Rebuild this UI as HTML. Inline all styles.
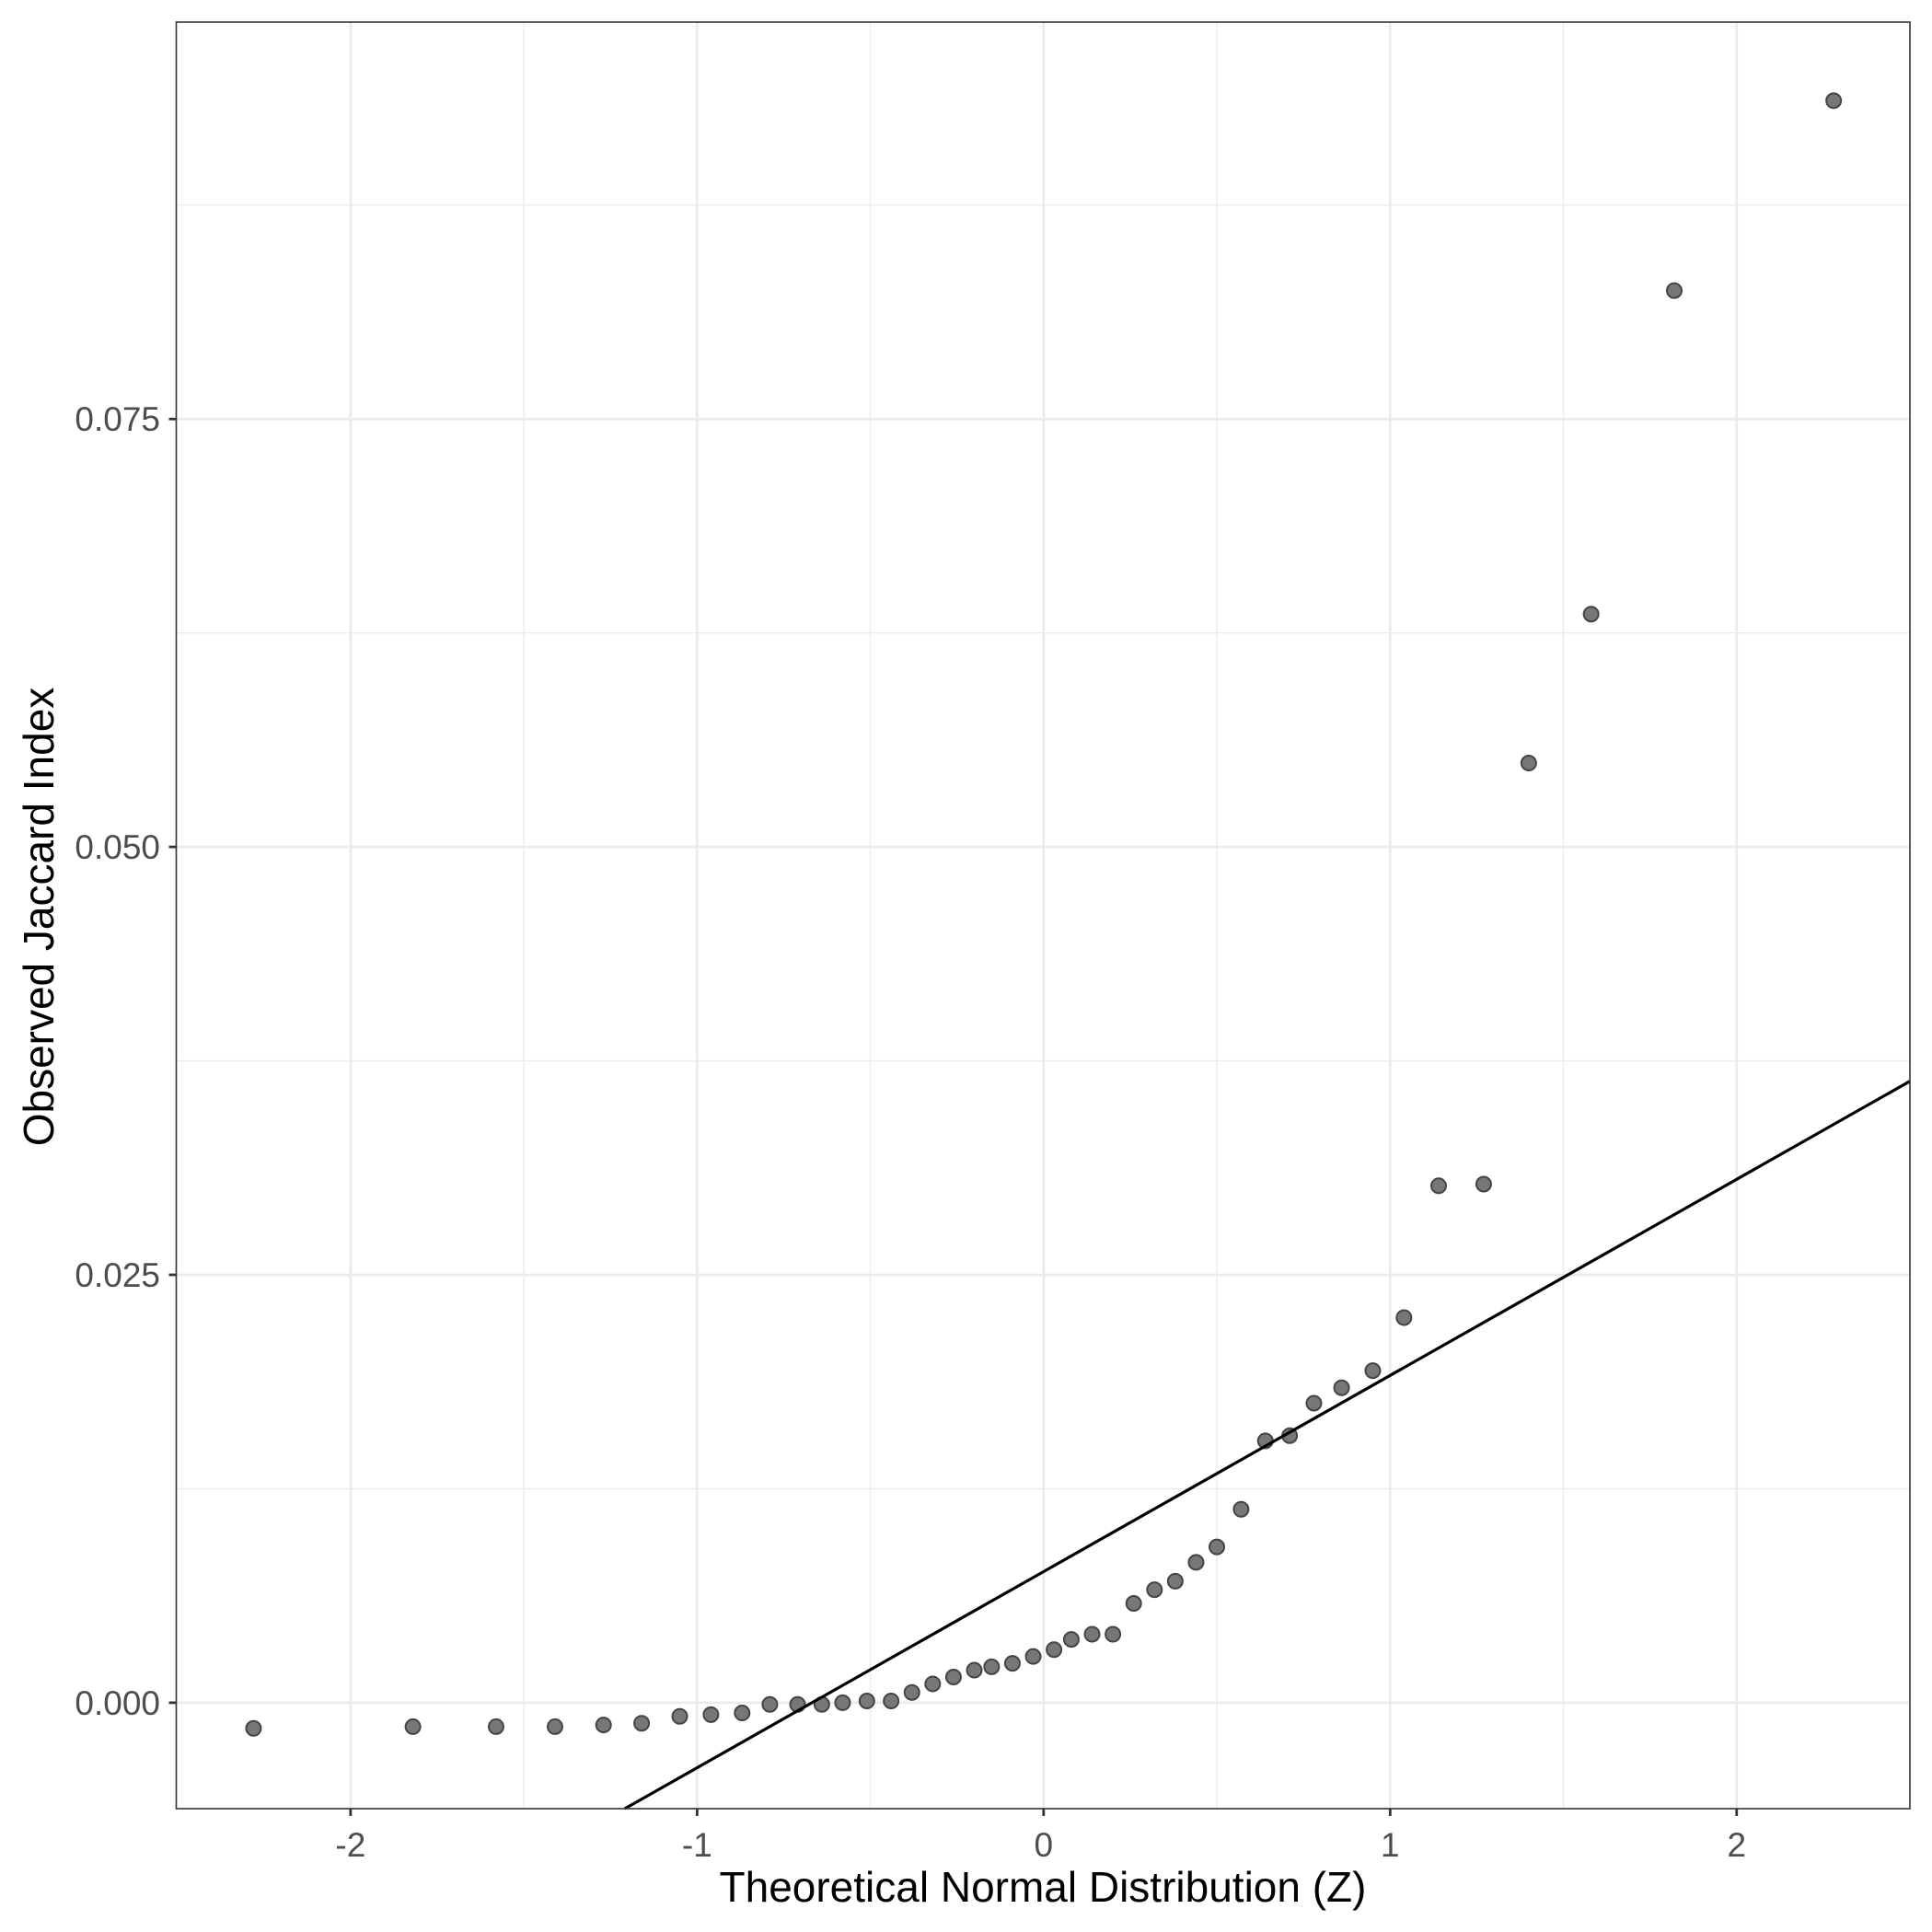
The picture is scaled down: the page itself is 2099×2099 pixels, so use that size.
<!DOCTYPE html>
<html><head><meta charset="utf-8"><style>
html,body{margin:0;padding:0;background:#fff;}
svg{display:block;font-family:"Liberation Sans",Arial,sans-serif;}
</style></head><body>
<svg id="chart" width="2099" height="2099" viewBox="0 0 2099 2099" xmlns="http://www.w3.org/2000/svg">
<rect x="0" y="0" width="2099" height="2099" fill="#fff"/>
<g id="grid"></g>
<g id="marks"></g>
<g id="axes"></g>
<text x="1133" y="2066" text-anchor="middle" font-size="46" fill="#000">Theoretical Normal Distribution (Z)</text>
<text transform="translate(58,996) rotate(-90)" text-anchor="middle" font-size="46" fill="#000">Observed Jaccard Index</text>
</svg>
<script>
const zValues = [-2.28,-1.82,-1.58,-1.41,-1.27,-1.16,-1.05,-0.96,-0.87,-0.79,-0.71,-0.64,-0.58,-0.51,-0.44,-0.38,-0.32,-0.26,-0.20,-0.15,-0.09,-0.03,0.03,0.08,0.14,0.20,0.26,0.32,0.38,0.44,0.50,0.57,0.64,0.71,0.78,0.86,0.95,1.04,1.14,1.27,1.40,1.58,1.82,2.28];
const jaccardValues = [-0.0015,-0.0014,-0.0014,-0.0014,-0.0013,-0.0012,-0.0008,-0.0007,-0.0006,-0.0001,-0.0001,-0.0001,0.0,0.0001,0.0001,0.0006,0.0011,0.0015,0.0019,0.0021,0.0023,0.0027,0.0031,0.0037,0.0040,0.0040,0.0058,0.0066,0.0071,0.0082,0.0091,0.0113,0.0153,0.0156,0.0175,0.0184,0.0194,0.0225,0.0302,0.0303,0.0549,0.0636,0.0825,0.0936];
const xTicks = [-2,-1,0,1,2];
const xTickLabels = ["-2","-1","0","1","2"];
const xMinor = [-1.5,-0.5,0.5,1.5];
const yTicks = [0,0.025,0.05,0.075];
const yTickLabels = ["0.000","0.025","0.050","0.075"];
const yMinor = [0.0125,0.0375,0.0625,0.0875];
const lineIntercept = 0.00766;
const lineSlope = 0.01146;

const NS = "http://www.w3.org/2000/svg";
const L = 191.5, R = 2075, T = 24, B = 1965;
const xMin = -2.503, xMax = 2.5, yMin = -0.00619, yMax = 0.09819;
function sx(v){ return L + (v - xMin) / (xMax - xMin) * (R - L); }
function sy(v){ return B - (v - yMin) / (yMax - yMin) * (B - T); }
function mk(tag, attrs, parent){ const e = document.createElementNS(NS, tag); for (const k in attrs) e.setAttribute(k, attrs[k]); parent.appendChild(e); return e; }

const grid = document.getElementById('grid');
const marks = document.getElementById('marks');
const axes = document.getElementById('axes');

xMinor.forEach(v => {
  const e = mk('line', {x1: sx(v), x2: sx(v), y1: T, y2: B, stroke: '#ebebeb', 'stroke-width': 1.4}, grid);
  
  
});
yMinor.forEach(v => {
  const e = mk('line', {x1: L, x2: R, y1: sy(v), y2: sy(v), stroke: '#ebebeb', 'stroke-width': 1.4}, grid);
  
  
});
xTicks.forEach((v, i) => {
  const g = mk('line', {x1: sx(v), x2: sx(v), y1: T, y2: B, stroke: '#ebebeb', 'stroke-width': 2.8}, grid);
  
  
  const t = mk('line', {x1: sx(v), x2: sx(v), y1: B, y2: B + 8, stroke: '#333', 'stroke-width': 2.8}, axes);
  
  
  const lb = mk('text', {x: sx(v), y: 2017, 'text-anchor': 'middle', 'font-size': 37, fill: '#4d4d4d'}, axes);
  lb.textContent = xTickLabels[i];
  
  
});
yTicks.forEach((v, i) => {
  const g = mk('line', {x1: L, x2: R, y1: sy(v), y2: sy(v), stroke: '#ebebeb', 'stroke-width': 2.8}, grid);
  
  
  const t = mk('line', {x1: L - 8, x2: L, y1: sy(v), y2: sy(v), stroke: '#333', 'stroke-width': 2.8}, axes);
  
  
  const lb = mk('text', {x: 174, y: sy(v) + 13, 'text-anchor': 'end', 'font-size': 37, fill: '#4d4d4d'}, axes);
  lb.textContent = yTickLabels[i];
  
  
});

zValues.forEach((z, i) => {
  const c = mk('circle', {cx: sx(z), cy: sy(jaccardValues[i]), r: 8, fill: '#777', stroke: '#444', 'stroke-width': 2}, marks);
  
  
});

const zA = (yMin - lineIntercept) / lineSlope;
const x0 = Math.max(xMin, zA), x1 = xMax;
const ln = mk('line', {x1: sx(x0), y1: sy(lineIntercept + lineSlope * x0), x2: sx(x1), y2: sy(lineIntercept + lineSlope * x1), stroke: '#000', 'stroke-width': 3.2}, marks);



const frame = mk('rect', {x: L, y: T, width: R - L, height: B - T, fill: 'none', stroke: '#333', 'stroke-width': 1.6}, axes);


</script>
</body></html>
